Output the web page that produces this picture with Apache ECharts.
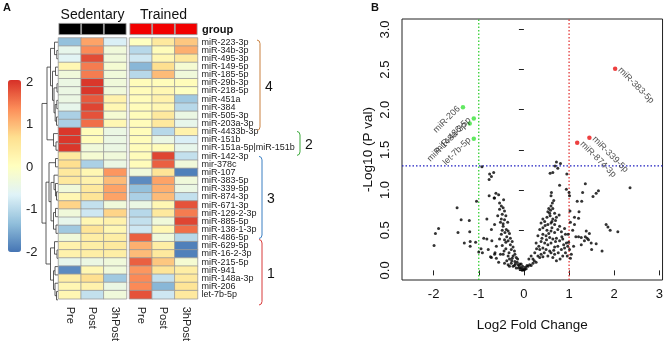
<!DOCTYPE html>
<html>
<head>
<meta charset="utf-8">
<script src="https://cdn.jsdelivr.net/npm/echarts@6/dist/echarts.min.js"></script>
<style>
  html, body { margin: 0; padding: 0; background: #fff; }
  #chart { width: 666px; height: 344px; }
</style>
</head>
<body>
<div id="chart"></div>
<script>
// ---- panel A: row-scaled expression (z-score) ----
const mirnas = [
  'miR-223-3p', 'miR-34b-3p', 'miR-495-3p', 'miR-149-5p', 'miR-185-5p', 'miR-29b-3p',
  'miR-218-5p', 'miR-451a', 'miR-384', 'miR-505-3p', 'miR-203a-3p', 'miR-4433b-3p',
  'miR-151b', 'miR-151a-5p|miR-151b', 'miR-142-3p', 'mir-378c', 'miR-107', 'miR-383-5p',
  'miR-339-5p', 'miR-874-3p', 'miR-671-3p', 'miR-129-2-3p', 'miR-885-5p', 'miR-138-1-3p',
  'miR-486-5p', 'miR-629-5p', 'miR-16-2-3p', 'miR-215-5p', 'miR-941', 'miR-148a-3p',
  'miR-206', 'let-7b-5p'
];
const conditions = ['Pre', 'Post', '3hPost'];

const sedentary = [
  [-1.3, 1.2, -0.7], [-0.5, 1.4, -0.3], [-0.6, 1.85, -0.3], [0.2, 1.5, -0.2],
  [-0.3, 1.5, -0.3], [-0.4, 2.0, -0.3], [-0.4, 2.0, -0.3], [-0.4, 1.75, 0.3],
  [-0.5, 1.9, 0.2], [-1.1, 1.8, -0.2], [-1.1, 1.6, 0.2], [2.0, 0.1, -0.4],
  [2.0, 0.1, -0.4], [2.0, -0.3, -0.4], [0.5, -0.2, -0.3], [0.7, -1.1, -0.4],
  [0.5, 0.2, 1.3], [0.5, 0.3, 1.0], [-0.3, 0.5, 1.2], [0.2, 0.6, 1.2],
  [0.8, -0.9, -0.3], [-0.3, -0.8, 0.8], [-0.5, 0.2, 0.3], [-1.2, 0.6, 0.2],
  [-0.3, 0.4, 0.4], [0.3, 0.4, 0.5], [0.3, 0.4, 0.4], [-0.5, -0.4, -0.3],
  [-1.8, 0.2, -0.3], [0.4, 0.7, -1.2], [0.2, 0.3, -0.4], [0.2, -0.9, -0.3]
];
const trained = [
  [0.0, 0.5, 0.9], [-1.0, 0.1, 1.1], [-0.8, 0.2, 0.5], [-1.4, 0.7, -0.2],
  [-1.0, 1.0, -0.3], [0.1, 0.1, 0.1], [0.1, 0.2, 0.0], [0.1, 0.3, -1.2],
  [0.1, 0.2, -1.0], [0.1, 0.5, -0.4], [0.1, 0.5, -0.5], [0.1, -1.0, 0.3],
  [0.1, -0.4, -0.7], [0.1, 0.1, -0.5], [0.1, 1.9, -0.9], [0.1, 1.7, -0.3],
  [-0.3, 0.6, -1.9], [-1.8, 1.2, -0.3], [-1.3, 1.1, -0.4], [-1.1, 1.0, -0.9],
  [-0.4, 0.2, 1.8], [-1.0, 0.5, 1.5], [-0.9, -0.3, 1.9], [-0.8, 0.2, 1.6],
  [1.7, -0.3, -1.0], [1.1, 0.4, -1.9], [1.0, 0.5, -1.9], [1.7, 0.9, -0.2],
  [1.3, 0.6, 0.4], [1.4, -0.9, 0.5], [1.4, -1.4, 0.6], [1.8, -0.8, 0.5]
];

// row dendrogram, hclust style: negative = row number, positive = earlier merge, then height
const merges = [
  [-2, -3, 1.2], [-1, 1, 3.5], [-4, -5, 2.5], [-6, -7, 1.0], [-8, -9, 1.2],
  [-10, -11, 1.5], [5, 6, 2.8], [4, 7, 4.0], [3, 8, 5.5], [2, 9, 7.5],
  [-13, -14, 2.0], [-12, 11, 4.5], [10, 12, 11.0], [-15, -16, 2.5], [-19, -20, 1.5],
  [-18, 15, 2.5], [-17, 16, 4.0], [-21, -22, 2.5], [-23, -24, 2.0], [18, 19, 4.5],
  [17, 20, 7.0], [14, 21, 9.0], [-26, -27, 1.0], [-25, 23, 3.5], [-28, -29, 3.0],
  [-31, -32, 1.5], [-30, 26, 3.0], [25, 27, 4.5], [24, 28, 7.5], [22, 29, 12.0],
  [13, 30, 16.0]
];

const clusterIds = ['4', '2', '3', '1'];
const clusterFirst = [1, 12, 15, 25];
const clusterLast = [11, 14, 24, 32];
const legendTicks = [-2, -1, 0, 1, 2];

// ---- panel B: volcano ----
const volcanoPts = [
  // left tail
  [-0.93, 1.29], [-0.76, 1.20], [-0.67, 1.22], [-0.72, 1.17], [-0.77, 1.13], [-0.77, 0.93],
  [-0.65, 0.90], [-1.05, 0.86], [-1.48, 0.78], [-0.82, 0.64], [-1.39, 0.63], [-1.21, 0.62],
  [-1.89, 0.52], [-1.96, 0.46], [-1.46, 0.47], [-1.20, 0.48], [-0.89, 0.40], [-0.82, 0.39],
  [-0.71, 0.37], [-1.19, 0.36], [-1.32, 0.34], [-1.07, 0.35], [-1.99, 0.31], [-1.19, 0.30],
  [-0.95, 0.27], [-1.00, 0.23], [-0.92, 0.22], [-0.79, 0.26], [-0.74, 0.17], [-0.65, 0.20],
  // left arm
  [-0.62, 0.96], [-0.56, 0.94], [-0.66, 0.90], [-0.54, 0.84], [-0.50, 0.80], [-0.46, 0.78],
  [-0.54, 0.76], [-0.43, 0.74], [-0.48, 0.70], [-0.40, 0.68], [-0.50, 0.64], [-0.43, 0.63],
  [-0.46, 0.58], [-0.65, 0.57], [-0.72, 0.51], [-0.46, 0.55], [-0.39, 0.51], [-0.35, 0.49],
  [-0.32, 0.46], [-0.42, 0.47], [-0.50, 0.45], [-0.54, 0.39], [-0.43, 0.38], [-0.35, 0.37],
  [-0.38, 0.42], [-0.61, 0.30], [-0.48, 0.31], [-0.30, 0.32], [-0.24, 0.29], [-0.28, 0.26],
  [-0.21, 0.24], [-0.40, 0.27], [-0.44, 0.24], [-0.33, 0.22], [-0.72, 0.16], [-0.61, 0.15],
  [-0.46, 0.20], [-0.35, 0.18], [-0.24, 0.18], [-0.17, 0.16], [-0.32, 0.14], [-0.27, 0.12],
  [-0.20, 0.11], [-0.43, 0.09], [-0.35, 0.07], [-0.28, 0.09], [-0.21, 0.06], [-0.13, 0.07],
  [-0.10, 0.05], [-0.38, 0.12], [-0.15, 0.10], [-0.06, 0.03], [-0.02, 0.02], [0.015, 0.01],
  [0.05, 0.02], [-0.04, 0.00], [0.00, 0.005], [-0.24, 0.05], [-0.17, 0.03], [-0.32, 0.05],
  [-0.08, 0.02], [-0.12, 0.03], [-0.09, 0.08], [-0.19, 0.08], [-0.26, 0.15], [-0.52, 0.60],
  [-0.58, 0.68], [-0.45, 0.88], [-0.40, 0.35], [-0.30, 0.40], [-0.52, 0.20], [-0.56, 0.10],
  [-0.64, 0.22], [-0.48, 0.50], [-0.36, 0.60], [-0.26, 0.36], [-0.20, 0.20], [-0.14, 0.14],
  [-0.06, 0.08], [-0.03, 0.05], [0.03, 0.04], [0.07, 0.06],
  // right arm
  [0.09, 0.05], [0.125, 0.07], [0.16, 0.06], [0.20, 0.09], [0.23, 0.12], [0.27, 0.10],
  [0.20, 0.14], [0.31, 0.18], [0.35, 0.16], [0.38, 0.20], [0.42, 0.17], [0.16, 0.18],
  [0.11, 0.14], [0.35, 0.26], [0.42, 0.28], [0.49, 0.26], [0.57, 0.24], [0.60, 0.22],
  [0.68, 0.20], [0.53, 0.18], [0.64, 0.16], [0.27, 0.34], [0.38, 0.36], [0.46, 0.34],
  [0.53, 0.32], [0.60, 0.34], [0.68, 0.29], [0.75, 0.30], [0.83, 0.26], [0.90, 0.28],
  [0.31, 0.43], [0.42, 0.45], [0.49, 0.43], [0.57, 0.41], [0.64, 0.39], [0.72, 0.40],
  [0.79, 0.37], [0.86, 0.39], [0.94, 0.34], [0.97, 0.30], [0.35, 0.51], [0.42, 0.53],
  [0.51, 0.50], [0.60, 0.49], [0.68, 0.47], [0.75, 0.51], [0.83, 0.48], [0.92, 0.45],
  [0.38, 0.59], [0.46, 0.61], [0.53, 0.57], [0.60, 0.59], [0.68, 0.57], [0.79, 0.55],
  [0.42, 0.64], [0.51, 0.66], [0.58, 0.68], [0.64, 0.64], [0.72, 0.66], [0.53, 0.73],
  [0.59, 0.75], [0.64, 0.77], [0.57, 0.71], [0.68, 0.71], [0.78, 0.69], [0.60, 0.80],
  [0.55, 0.77], [0.24, 0.22], [0.28, 0.27], [0.45, 0.22], [0.50, 0.38], [0.55, 0.46],
  [0.62, 0.53], [0.70, 0.36], [0.76, 0.22], [0.86, 0.18], [0.88, 0.32], [0.92, 0.22],
  [0.33, 0.30], [0.40, 0.40], [0.47, 0.56], [0.66, 0.25], [0.72, 0.12], [0.80, 0.14],
  [0.84, 0.42], [0.90, 0.52], [0.62, 0.61], [0.70, 0.62],
  // right arm, upper part
  [0.72, 1.35], [0.81, 1.33], [0.69, 1.30], [0.75, 1.27], [0.64, 1.22], [0.58, 1.21],
  [0.79, 1.06], [0.61, 0.97], [0.60, 0.93], [0.95, 1.20], [0.94, 1.01], [1.00, 0.97],
  [1.01, 0.93], [0.66, 0.87], [0.63, 0.84],
  [1.02, 0.74], [1.03, 0.60], [0.98, 0.45], [1.01, 0.26], [1.03, 0.15], [0.96, 0.18],
  [0.99, 0.35],
  // right tail
  [2.35, 1.03], [1.36, 1.08], [1.65, 0.99], [1.60, 0.96], [1.53, 0.92], [1.30, 0.97],
  [1.18, 0.86], [1.28, 0.86], [1.22, 0.73], [1.12, 0.66], [1.21, 0.65], [1.12, 0.57],
  [1.82, 0.57], [1.86, 0.54], [1.91, 0.50], [2.08, 0.48], [1.38, 0.49], [1.45, 0.46],
  [1.21, 0.42], [1.27, 0.41], [1.36, 0.42], [1.40, 0.40], [1.43, 0.38], [1.34, 0.37],
  [1.49, 0.34], [1.60, 0.33], [1.27, 0.32], [1.50, 0.26], [1.73, 0.24], [1.15, 0.42],
  [1.10, 0.30], [1.05, 0.20], [1.08, 0.50]
];
const downNames = ['miR-206', 'miR-148a-3p', 'miR-486-5p', 'let-7b-5p'];
const downPts = [[-1.35, 2.03], [-1.20, 1.83], [-1.11, 1.89], [-1.11, 1.64]];
const upNames = ['miR-383-5p', 'miR-339-5p', 'miR-874-3p'];
const upPts = [[2.02, 2.51], [1.45, 1.65], [1.18, 1.59]];
const fcCut = 1;
const pCut = 1.3;
const xTicks = [-2, -1, 0, 1, 2, 3];
const yTicks = [0, 0.5, 1, 1.5, 2, 2.5, 3];
const xRange = [-2.7, 3.07];
const yRange = [-0.12, 3.13];

// ---- build ----
const heatData = m => m.flatMap((row, i) => row.map((v, j) => [j, i, v]));

const nodeY = [], nodeH = [];
const dendroSegs = merges.map(([a, b, h], i) => {
  const ya = a < 0 ? -a - 0.5 : nodeY[a - 1];
  const ha = a < 0 ? 0 : nodeH[a - 1];
  const yb = b < 0 ? -b - 0.5 : nodeY[b - 1];
  const hb = b < 0 ? 0 : nodeH[b - 1];
  nodeY[i] = (ya + yb) / 2;
  nodeH[i] = h;
  return [h, ya, ha, yb, hb];
});

const bracketX = [60, 100, 62, 62];          // px from left of label grid
const bracketColor = ['#c9803f', '#3aa83a', '#3b7fc2', '#d83a3a'];

const palette = ['#4575B4', '#91BFDB', '#E0F3F8', '#FFFFBF', '#FEE090', '#FC8D59', '#D73027'];
const font = 'Liberation Sans, Arial, sans-serif';
const HT = 38, HH = 266;

// dotted cut-off line drawn as a two-point line series
const cutLine = (pts, color) => ({
  type: 'line', xAxisIndex: 7, yAxisIndex: 7, data: pts, silent: true,
  symbol: 'none', z: 1,
  lineStyle: { type: [1.5, 2], width: 1.2, color: color }
});

const chart = echarts.init(document.getElementById('chart'));
chart.setOption({
  animation: false,
  textStyle: { fontFamily: font },
  grid: [
    { left: 42, top: HT, width: 16, height: HH },         // dendrogram
    { left: 58.5, top: HT, width: 68, height: HH },       // sedentary cells
    { left: 129.5, top: HT, width: 68, height: HH },      // trained cells
    { left: 58.5, top: 23, width: 68, height: 12 },       // group bar
    { left: 129.5, top: 23, width: 68, height: 12 },
    { left: 200, top: HT, width: 120, height: HH },       // cluster brackets
    { left: 8, top: 80, width: 13, height: 172 },         // legend ticks
    { left: 402, top: 19, width: 261, height: 261, show: true, borderColor: '#222', borderWidth: 1 }
  ],
  xAxis: [
    { gridIndex: 0, type: 'value', min: 0, max: 16, inverse: true, show: false },
    { gridIndex: 1, type: 'category', data: conditions, axisLine: { show: false }, axisTick: { show: false },
      axisLabel: { rotate: -90, fontSize: 11, margin: 8, color: '#222' } },
    { gridIndex: 2, type: 'category', data: conditions, axisLine: { show: false }, axisTick: { show: false },
      axisLabel: { rotate: -90, fontSize: 11, margin: 8, color: '#222' } },
    { gridIndex: 3, type: 'category', data: conditions, show: false },
    { gridIndex: 4, type: 'category', data: conditions, show: false },
    { gridIndex: 5, type: 'value', min: 0, max: 120, show: false },
    { gridIndex: 6, type: 'value', min: 0, max: 1, show: false },
    { gridIndex: 7, type: 'value', min: xRange[0], max: xRange[1],
      axisLine: { show: false }, splitLine: { show: false },
      axisTick: { show: true, length: 5, customValues: xTicks, lineStyle: { color: '#222' } },
      axisLabel: { customValues: xTicks, fontSize: 13, margin: 8, color: '#111' },
      name: 'Log2 Fold Change', nameLocation: 'middle', nameGap: 38,
      nameTextStyle: { fontSize: 13.5, color: '#111' } }
  ],
  yAxis: [
    { gridIndex: 0, type: 'value', min: 0, max: 32, inverse: true, show: false },
    { gridIndex: 1, type: 'category', data: mirnas, inverse: true, show: false },
    { gridIndex: 2, type: 'category', data: mirnas, inverse: true, position: 'right',
      axisLine: { show: false }, axisTick: { show: false },
      axisLabel: { interval: 0, fontSize: 9, margin: 4, color: '#222' } },
    { gridIndex: 3, type: 'value', min: 0, max: 1, show: false },
    { gridIndex: 4, type: 'value', min: 0, max: 1, show: false },
    { gridIndex: 5, type: 'value', min: 0, max: 32, inverse: true, show: false },
    { gridIndex: 6, type: 'value', min: -2, max: 2.05, position: 'right',
      axisLine: { show: false }, axisTick: { show: false }, splitLine: { show: false },
      axisLabel: { customValues: legendTicks, fontSize: 13, margin: 5, color: '#222' } },
    { gridIndex: 7, type: 'value', min: yRange[0], max: yRange[1],
      axisLine: { show: false }, splitLine: { show: false },
      axisTick: { show: true, length: 5, customValues: yTicks, lineStyle: { color: '#222' } },
      axisLabel: { customValues: yTicks, rotate: 90, fontSize: 13, margin: 10, color: '#111',
        formatter: v => v.toFixed(1) },
      name: '-Log10 (P val)', nameLocation: 'middle', nameGap: 27, nameRotate: 90,
      nameTextStyle: { fontSize: 13.5, color: '#111' } }
  ],
  visualMap: {
    type: 'continuous', min: -2, max: 2.05, seriesIndex: [1, 2], calculable: false,
    left: 8, top: 80, itemWidth: 13, itemHeight: 172, padding: 0, orient: 'vertical',
    inRange: { color: palette }
  },
  graphic: [
    { type: 'text', x: 7, y: 8, style: { text: 'A', font: 'bold 11px ' + font, fill: '#111', align: 'center', verticalAlign: 'middle' } },
    { type: 'text', x: 375, y: 8, style: { text: 'B', font: 'bold 11px ' + font, fill: '#111', align: 'center', verticalAlign: 'middle' } },
    { type: 'text', x: 92.5, y: 15, style: { text: 'Sedentary', font: '14px ' + font, fill: '#111', align: 'center', verticalAlign: 'middle' } },
    { type: 'text', x: 163.5, y: 15, style: { text: 'Trained', font: '14px ' + font, fill: '#111', align: 'center', verticalAlign: 'middle' } },
    { type: 'text', x: 202, y: 30, style: { text: 'group', font: 'bold 11px ' + font, fill: '#111', align: 'left', verticalAlign: 'middle' } }
  ],
  series: [
    {
      type: 'custom', xAxisIndex: 0, yAxisIndex: 0, silent: true, clip: false,
      data: dendroSegs,
      renderItem: (params, api) => {
        const h = api.value(0), ya = api.value(1), ha = api.value(2), yb = api.value(3), hb = api.value(4);
        return {
          type: 'polyline',
          shape: { points: [api.coord([ha, ya]), api.coord([h, ya]), api.coord([h, yb]), api.coord([hb, yb])] },
          style: { stroke: '#333', lineWidth: 0.8, fill: null }
        };
      }
    },
    {
      type: 'heatmap', xAxisIndex: 1, yAxisIndex: 1, data: heatData(sedentary), silent: true,
      itemStyle: { borderColor: '#9a9a9a', borderWidth: 0.8 }
    },
    {
      type: 'heatmap', xAxisIndex: 2, yAxisIndex: 2, data: heatData(trained), silent: true,
      itemStyle: { borderColor: '#9a9a9a', borderWidth: 0.8 }
    },
    {
      type: 'bar', xAxisIndex: 3, yAxisIndex: 3, data: [1, 1, 1], barWidth: '100%', silent: true,
      itemStyle: { color: '#000', borderColor: '#999', borderWidth: 0.8 }
    },
    {
      type: 'bar', xAxisIndex: 4, yAxisIndex: 4, data: [1, 1, 1], barWidth: '100%', silent: true,
      itemStyle: { color: '#f20000', borderColor: '#999', borderWidth: 0.8 }
    },
    {
      type: 'custom', xAxisIndex: 5, yAxisIndex: 5, silent: true, clip: false,
      data: clusterIds.map((id, i) => [bracketX[i], clusterFirst[i], clusterLast[i]]),
      renderItem: (params, api) => {
        const i = params.dataIndex;
        const x = api.coord([api.value(0), 0])[0];
        const y0 = api.coord([0, api.value(1) - 1])[1] + 2;
        const y1 = api.coord([0, api.value(2)])[1] + 1;
        return {
          type: 'group',
          children: [
            { type: 'polyline',
              shape: { points: [[x - 3, y0], [x - 0.8, y0 + 1], [x, y0 + 3.5], [x, y1 - 3.5], [x - 0.8, y1 - 1], [x - 3, y1]] },
              style: { stroke: bracketColor[i], lineWidth: 1, fill: null } },
            { type: 'text', x: x + 5, y: (y0 + y1) / 2 + 2,
              style: { text: clusterIds[i], font: '14px ' + font, fill: '#111', align: 'left', verticalAlign: 'middle' } }
          ]
        };
      }
    },
    cutLine([[-fcCut, yRange[0]], [-fcCut, yRange[1]]], '#22cc22'),
    cutLine([[fcCut, yRange[0]], [fcCut, yRange[1]]], '#e02828'),
    cutLine([[xRange[0], pCut], [xRange[1], pCut]], '#1f1fc0'),
    {
      type: 'scatter', xAxisIndex: 7, yAxisIndex: 7, data: volcanoPts, symbolSize: 3, silent: true,
      itemStyle: { color: '#000' }, z: 3
    },
    {
      type: 'scatter', xAxisIndex: 7, yAxisIndex: 7, symbolSize: 4.5, silent: true, z: 4,
      data: downNames.map((n, i) => ({ name: n, value: downPts[i] })),
      itemStyle: { color: '#3be23b' },
      label: { show: true, formatter: '{b}', position: 'left', rotate: 45, distance: 2, fontSize: 9, color: '#222' }
    },
    {
      type: 'scatter', xAxisIndex: 7, yAxisIndex: 7, symbolSize: 4.5, silent: true, z: 4,
      data: upNames.map((n, i) => ({ name: n, value: upPts[i] })),
      itemStyle: { color: '#e81010' },
      label: { show: true, formatter: '{b}', position: 'right', rotate: -45, distance: 2, fontSize: 9, color: '#222' }
    }
  ]
});
</script>
</body>
</html>
